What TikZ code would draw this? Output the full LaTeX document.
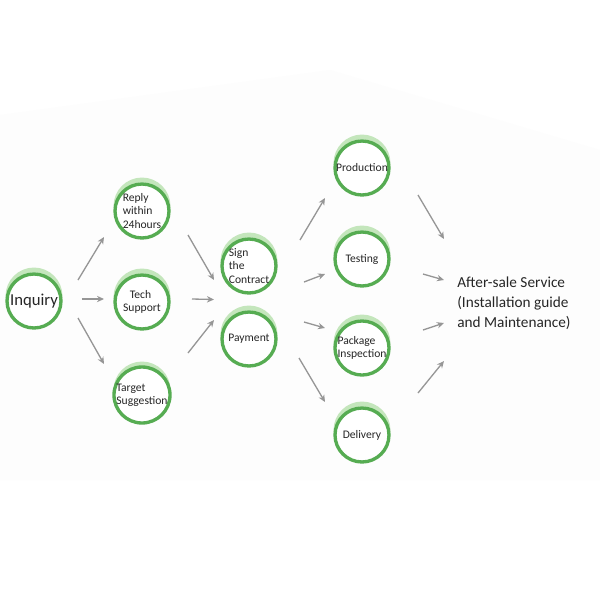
\documentclass[tikz,border=0pt]{standalone}
\usepackage{fontspec}
\setmainfont{Carlito}
\usetikzlibrary{arrows.meta,backgrounds,calc}
\definecolor{ringdark}{RGB}{86,172,82}
\definecolor{ringlight}{RGB}{196,230,188}
\definecolor{arrgray}{RGB}{150,150,150}
\begin{document}
\begin{tikzpicture}[x=0.02cm,y=-0.02cm,
  ring/.style={circle,draw=ringdark,line width=1.9pt,fill=white,minimum size=1.08cm,inner sep=0pt,
    font=\fontsize{6.6}{7.6}\selectfont,align=left,text=black!85},
  halo/.style={draw=ringlight,line width=2.8pt},
  arr/.style={draw=arrgray,line width=0.75pt,-{Stealth[length=4pt,width=3.6pt]}}]
\useasboundingbox (0,0) rectangle (600,600);
% nodes
\node[ring,font=\fontsize{9.5}{11}\selectfont] (inq) at (34,301) {Inquiry};
\node[ring] (reply) at (142,211) {Reply\\within\\24hours};
\node[ring] (tech) at (142,302) {\hspace*{1.2ex}Tech\\Support};
\node[ring] (target) at (142,395) {Target\\Suggestion};
\node[ring] (sign) at (249,266) {Sign\\the\\Contract};
\node[ring] (pay) at (249,339) {Payment};
\node[ring] (prod) at (362,168) {Production};
\node[ring] (test) at (362,259) {Testing};
\node[ring] (pack) at (362,348) {Package\\Inspection};
\node[ring] (del) at (362,435) {Delivery};
\node[anchor=west,align=left,font=\fontsize{8.7}{11.3}\selectfont,text=black!85,inner sep=0pt] (after) at (457,303)
  {After-sale Service\\(Installation guide\\and Maintenance)};
\begin{scope}[on background layer]
\fill[white] (0,0) rectangle (600,600);
\fill[black!0.8] (0,115) -- (330,70) -- (600,150) -- (600,480) -- (0,480) -- cycle;
\foreach \n in {inq,reply,tech,target,sign,pay,prod,test,pack,del}
  \draw[halo] ([yshift=0.1cm]\n.center) circle (0.52cm);
\end{scope}
% arrows
\draw[arr] ($(inq)+(44,-21)$) -- ($(reply)+(-38,26)$);
\draw[arr] ($(inq)+(48,-2)$) -- ($(tech)+(-38,-3)$);
\draw[arr] ($(inq)+(44,17)$) -- ($(target)+(-38,-31)$);
\draw[arr] ($(reply)+(46,24)$) -- ($(sign)+(-35,14)$);
\draw[arr] ($(tech)+(50,-3)$) -- ($(sign)!0.5!(pay)+(-35,-3)$);
\draw[arr] ($(target)+(46,-42)$) -- ($(pay)+(-35,-19)$);
\draw[arr] ($(sign)+(51,-26)$) -- ($(prod)+(-37,30)$);
\draw[arr] ($(sign)+(55,16)$) -- ($(test)+(-37,15)$);
\draw[arr] ($(pay)+(55,-17)$) -- ($(pack)+(-37,-20)$);
\draw[arr] ($(pay)+(50,19)$) -- ($(del)+(-37,-33)$);
\draw[arr] ($(prod)+(56,27)$) -- ($(after.west)+(-13,-64)$);
\draw[arr] ($(test)+(61,15)$) -- ($(after.west)+(-13,-23)$);
\draw[arr] ($(pack)+(61,-18)$) -- ($(after.west)+(-13,20)$);
\draw[arr] ($(del)+(56,-42)$) -- ($(after.west)+(-13,58)$);
\end{tikzpicture}
\end{document}
